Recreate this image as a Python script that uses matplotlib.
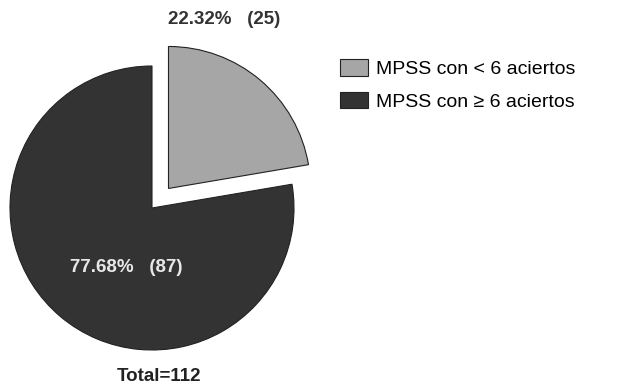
import matplotlib.pyplot as plt

labels = ['MPSS con < 6 aciertos', 'MPSS con \u2265 6 aciertos']
counts = [25, 87]
colors = ['#a6a6a6', '#333333']
explode = [0.18, 0]

total = sum(counts)
pcts = [100 * c / total for c in counts]

plt.rcParams['font.family'] = ['Liberation Sans', 'DejaVu Sans']

fig = plt.figure(figsize=(6.27, 3.88), dpi=100)
# pie centre at (152, 180) px from bottom-left, radius 142 px
r_px = 142
lim = 1.3
ax = fig.add_axes([(152 - r_px * lim) / 627, (180 - r_px * lim) / 388,
                   2 * r_px * lim / 627, 2 * r_px * lim / 388])
wedges, _ = ax.pie(counts, colors=colors, explode=explode, startangle=90,
                   counterclock=False,
                   wedgeprops=dict(edgecolor='#222222', linewidth=0.8))
ax.set_xlim(-lim, lim)
ax.set_ylim(-lim, lim)
ax.set_aspect('equal')
ax.axis('off')

ax.text(0.51, 1.33, f'{pcts[0]:.2f}%   ({counts[0]})', ha='center', va='center',
        fontsize=13.5, fontweight='bold', color='#333333')
ax.text(-0.18, -0.42, f'{pcts[1]:.2f}%   ({counts[1]})', ha='center', va='center',
        fontsize=13.5, fontweight='bold', color='#e8e8e8')
ax.text(0.05, -1.19, f'Total={total}', ha='center', va='center',
        fontsize=13.5, fontweight='bold', color='#222222')

fig.legend(wedges, labels, loc='upper left', bbox_to_anchor=(322 / 627, 1 - 42 / 388),
           frameon=False, handlelength=1.45, handleheight=0.9,
           handletextpad=0.45, labelspacing=0.7, prop={'size': 14})

fig.savefig('out.png', dpi=100)
